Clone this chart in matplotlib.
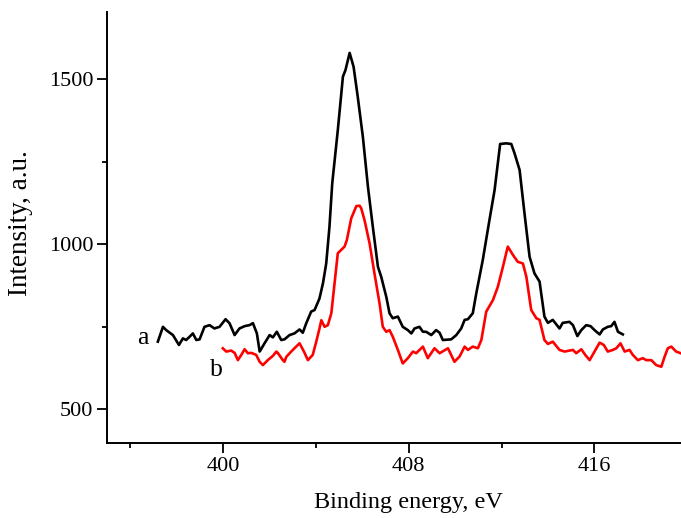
import matplotlib
matplotlib.use("Agg")
import matplotlib.pyplot as plt
from matplotlib.ticker import MultipleLocator

plt.rcParams['font.family'] = ['Liberation Serif', 'DejaVu Serif']

# Spectrum a (black)
energy_a = [397.18, 397.40, 397.54, 397.83, 398.09, 398.26, 398.40, 398.55, 398.69, 398.84,
            398.98, 399.19, 399.41, 399.62, 399.84, 400.10, 400.27, 400.49, 400.70, 400.92,
            401.13, 401.28, 401.45, 401.57, 401.78, 402.00, 402.14, 402.31, 402.50, 402.64,
            402.86, 403.07, 403.29, 403.43, 403.58, 403.79, 403.94, 404.15, 404.30, 404.44,
            404.58, 404.70, 404.94, 405.16, 405.27, 405.45, 405.62, 405.80, 406.02, 406.24,
            406.45, 406.67, 406.81, 407.03, 407.17, 407.31, 407.53, 407.74, 407.96, 408.11,
            408.25, 408.46, 408.61, 408.75, 408.97, 409.18, 409.33, 409.47, 409.83, 410.05,
            410.26, 410.41, 410.55, 410.76, 410.91, 411.19, 411.48, 411.70, 411.94, 412.20,
            412.42, 412.56, 412.78, 412.99, 413.21, 413.42, 413.64, 413.85, 414.00, 414.21,
            414.50, 414.64, 414.93, 415.08, 415.27, 415.44, 415.65, 415.84, 416.01, 416.23,
            416.37, 416.58, 416.73, 416.87, 417.02, 417.23]
intensity_a = [705, 750, 740, 725, 695, 715, 710, 720, 730, 710,
               712, 750, 755, 745, 750, 773, 761, 725, 745, 752,
               755, 761, 730, 675, 700, 725, 718, 735, 710, 712,
               725, 730, 742, 732, 761, 796, 801, 836, 882, 942,
               1053, 1185, 1346, 1508, 1528, 1580, 1538, 1447, 1326, 1174,
               1053, 932, 902, 841, 791, 776, 781, 750, 740, 730,
               745, 750, 735, 735, 725, 740, 732, 710, 712, 725,
               745, 771, 773, 791, 851, 952, 1074, 1164, 1304, 1306,
               1304, 1276, 1225, 1094, 962, 912, 887, 781, 762, 771,
               745, 762, 765, 755, 722, 740, 755, 752, 740, 727,
               742, 750, 752, 765, 735, 727]

# Spectrum b (red)
energy_b = [399.98, 400.13, 400.34, 400.49, 400.63, 400.78, 400.92, 401.06, 401.21, 401.42,
            401.57, 401.71, 401.92, 402.14, 402.29, 402.35, 402.57, 402.64, 402.72, 402.93,
            403.07, 403.29, 403.48, 403.65, 403.86, 404.01, 404.15, 404.23, 404.37, 404.51,
            404.66, 404.94, 405.23, 405.33, 405.52, 405.74, 405.88, 405.95, 406.09, 406.31,
            406.52, 406.74, 406.88, 407.03, 407.17, 407.31, 407.53, 407.74, 407.96, 408.18,
            408.32, 408.61, 408.82, 409.11, 409.33, 409.69, 409.97, 410.19, 410.41, 410.55,
            410.76, 410.98, 411.13, 411.34, 411.63, 411.84, 412.06, 412.27, 412.49, 412.70,
            412.92, 413.07, 413.28, 413.50, 413.64, 413.85, 414.00, 414.21, 414.50, 414.72,
            414.93, 415.08, 415.22, 415.44, 415.61, 415.80, 416.01, 416.23, 416.41, 416.58,
            416.80, 416.95, 417.13, 417.31, 417.52, 417.66, 417.88, 418.09, 418.24, 418.46,
            418.67, 418.89, 419.03, 419.17, 419.32, 419.53, 419.72]
intensity_b = [685, 675, 678, 671, 649, 665, 682, 670, 671, 665,
               644, 634, 649, 662, 675, 671, 649, 644, 659, 675,
               685, 700, 675, 649, 665, 705, 745, 770, 750, 755,
               791, 973, 993, 1013, 1079, 1116, 1117, 1109, 1074, 1003,
               912, 821, 750, 735, 740, 720, 680, 639, 655, 675,
               670, 690, 655, 685, 670, 685, 644, 660, 690, 680,
               690, 685, 710, 796, 831, 871, 932, 993, 968, 947,
               942, 902, 801, 776, 771, 710, 698, 705, 680, 675,
               678, 680, 670, 682, 665, 649, 675, 702, 695, 675,
               680, 685, 700, 675, 680, 665, 649, 655, 649, 649,
               634, 629, 659, 685, 690, 675, 670]

x_major = [400, 408, 416]
y_major = [500, 1000, 1500]

fig = plt.figure(figsize=(6.81, 5.18), dpi=100)
ax = fig.add_axes([107.3 / 681, 74.7 / 518, 579.75 / 681, 431.3 / 518])

ax.plot(energy_a, intensity_a, color='black', lw=1.9)
ax.plot(energy_b, intensity_b, color='#ff0000', lw=1.9)

ax.text(396.52, 716, 'a', fontsize=18.5, ha='center', va='center')
ax.text(399.71, 619, 'b', fontsize=18.5, ha='center', va='center')

ax.set_xlim(395, 420)
ax.set_ylim(397, 1704)

ax.set_xticks(x_major)
ax.xaxis.set_minor_locator(MultipleLocator(4))
ax.set_yticks(y_major)
ax.yaxis.set_minor_locator(MultipleLocator(250))

for side in ('top', 'right'):
    ax.spines[side].set_visible(False)
for side in ('left', 'bottom'):
    ax.spines[side].set_linewidth(1.4)

ax.tick_params(which='major', direction='out', length=7, width=1.3, labelsize=16, pad=3)
ax.tick_params(which='minor', direction='out', length=3.5, width=1.3)

ax.set_xlabel('Binding energy, eV', fontsize=17.5)
ax.set_ylabel('Intensity, a.u.', fontsize=19.5)
ax.xaxis.set_label_coords(0.519, -0.113)
ax.yaxis.set_label_coords(-0.128, 0.511)

fig.savefig('out.png', dpi=100)
